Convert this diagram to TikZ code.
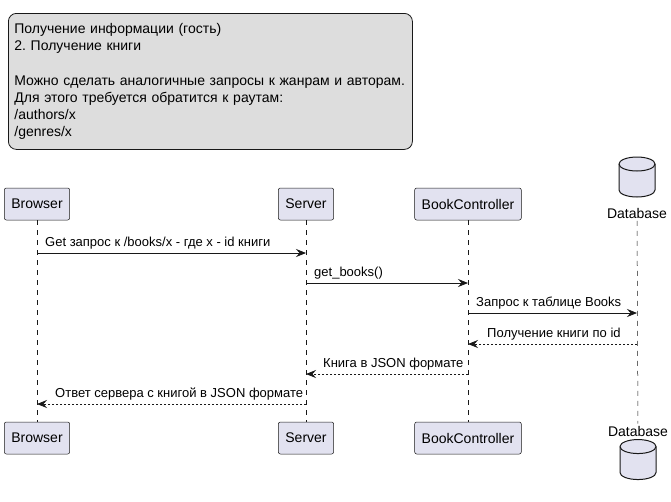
\documentclass[tikz,border=0pt]{standalone}
\usepackage{fontspec}
\setmainfont{Liberation Sans}
\usepackage{tikz}
\usetikzlibrary{positioning,arrows.meta,calc}
\definecolor{partfill}{HTML}{E2E2F0}
\definecolor{linecol}{HTML}{181818}
\definecolor{notefill}{HTML}{DDDDDD}
\frenchspacing

\tikzset{
  part/.style={draw=linecol, fill=partfill, rounded corners=2pt, line width=0.5pt,
    minimum height=32pt, inner xsep=7pt, font=\fontsize{14}{16}\selectfont},
  dbbox/.style={minimum width=36pt, minimum height=40pt, inner sep=0pt},
  dbline/.style={draw=linecol, fill=partfill, line width=1pt},
  dbcyl/.pic={
    \filldraw[dbline] (-18,-13) -- (-18,13)
      arc[start angle=180, end angle=0, x radius=18, y radius=7] -- (18,-13)
      arc[start angle=0, end angle=-180, x radius=18, y radius=7] -- cycle;
    \draw[dbline, fill=none] (-18,-13) arc[start angle=180, end angle=0, x radius=18, y radius=7];
  },
  dblabel/.style={inner sep=2pt, font=\fontsize{14}{16}\selectfont},
  note/.style={draw=linecol, fill=notefill, rounded corners=8pt, line width=0.8pt,
    text width=392pt, minimum height=136pt, inner xsep=6pt, align=left,
    font=\fontsize{14}{17.3}\selectfont},
  lifeline/.style={draw=linecol, line width=0.5pt, dash pattern=on 5pt off 5pt},
  msg/.style={draw=linecol, line width=0.8pt, -{Stealth[length=10pt,width=8pt,inset=3.5pt]}},
  reply/.style={msg, dash pattern=on 2pt off 2pt},
  msglabel/.style={inner sep=0pt, anchor=base west, font=\fontsize{13}{15}\selectfont}
}

\begin{document}
\begin{tikzpicture}[x=1pt,y=-1pt]
\useasboundingbox (0,0) rectangle (671,501);

% Note
\node[note, anchor=north west] (info) at (8,13) {Получение информации (гость)\\
2. Получение книги\\[17.3pt]
Можно сделать аналогичные запросы к жанрам и авторам.\\
Для этого требуется обратится к раутам:\\
/authors/x\\
/genres/x};

% Participants, top
\node[part] (brtop) at (37,204) {Browser};
\node[part] (srvtop) at (306,204) {Server};
\node[part] (bctop) at (468,204) {BookController};
\node[dbbox] (dbtop) at (637,177) {};
\pic at (dbtop) {dbcyl};
\node[dblabel, below=9pt of dbtop] (dbtoplbl) {Database};

% Participants, bottom
\node[part] (brbot) at (37,438) {Browser};
\node[part] (srvbot) at (306,438) {Server};
\node[part] (bcbot) at (468,438) {BookController};
\node[dblabel] (dbbotlbl) at (638,431) {Database};
\node[dbbox, below=1pt of dbbotlbl] (dbbot) {};
\pic at (dbbot) {dbcyl};

% Lifelines
\draw[lifeline] (brtop) -- (brbot);
\draw[lifeline] (srvtop) -- (srvbot);
\draw[lifeline] (bctop) -- (bcbot);
\draw[lifeline] (dbtoplbl) -- (dbbotlbl);

% Message rows
\coordinate (m1) at (0,253);
\coordinate (m2) at (0,283);
\coordinate (m3) at (0,313);
\coordinate (m4) at (0,344);
\coordinate (m5) at (0,374);
\coordinate (m6) at (0,404);

% Requests
\draw[msg] (brtop |- m1) -- (srvtop |- m1);
\node[msglabel] (l1) at ($(brtop |- m1)+(8,-7)$) {Get запрос к /books/x - где x - id книги};
\draw[msg] (srvtop |- m2) -- (bctop |- m2);
\node[msglabel] (l2) at ($(srvtop |- m2)+(8,-7)$) {get\_books()};
\draw[msg] (bctop |- m3) -- (dbtoplbl |- m3);
\node[msglabel] (l3) at ($(bctop |- m3)+(8,-7)$) {Запрос к таблице Books};

% Replies
\draw[reply] (dbtoplbl |- m4) -- (bctop |- m4);
\node[msglabel] (l4) at ($(bctop |- m4)+(19,-7)$) {Получение книги по id};
\draw[reply] (bctop |- m5) -- (srvtop |- m5);
\node[msglabel] (l5) at ($(srvtop |- m5)+(17,-7)$) {Книга в JSON формате};
\draw[reply] (srvtop |- m6) -- (brtop |- m6);
\node[msglabel] (l6) at ($(brtop |- m6)+(18,-7)$) {Ответ сервера с книгой в JSON формате};
\end{tikzpicture}
\end{document}
